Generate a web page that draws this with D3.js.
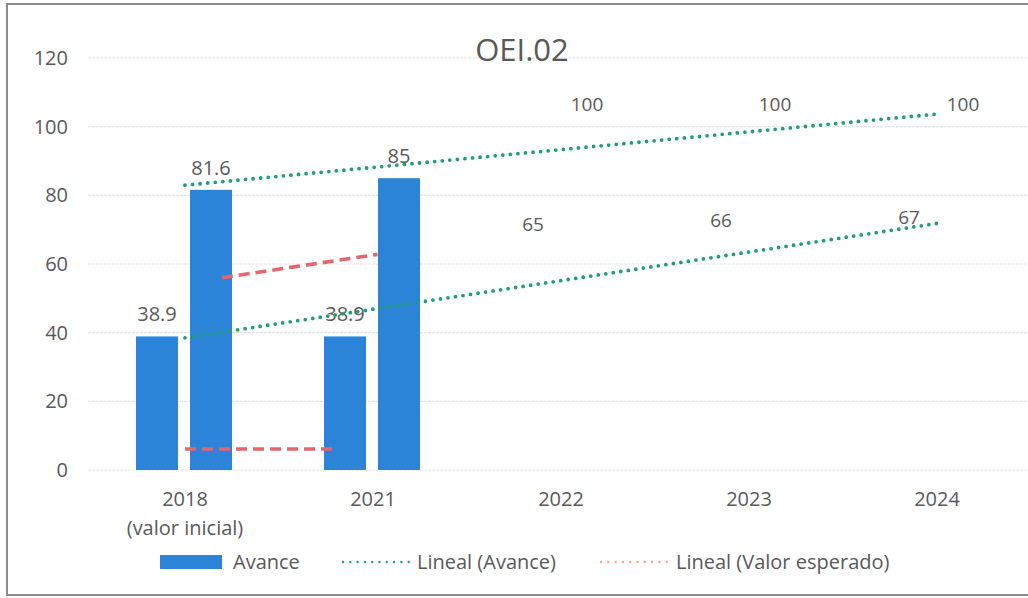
<!DOCTYPE html>
<html>
<head>
<meta charset="utf-8">
<script src="https://cdn.jsdelivr.net/npm/d3@7"></script>
<style>
  body { margin: 0; background: #fff; }
  text { font-family: "Open Sans", "Noto Sans", sans-serif; fill: #595959; }
</style>
</head>
<body>
<div id="chart"></div>
<script>
// categories and series
var categories = ["2018", "2021", "2022", "2023", "2024"];
var cat_sub = ["(valor inicial)", "", "", "", ""];
var avance_low = [38.9, 38.9, 65, 66, 67];      // left bar of each group
var avance_high = [81.6, 85, 100, 100, 100];    // right bar of each group
var bar_visible = [true, true, false, false, false];
var y_ticks = [0, 20, 40, 60, 80, 100, 120];

// "Valor esperado" trend segments: [category index, value] pairs
var esperado_segments = [
    [[0.196, 56.0], [1.024, 62.8]],
    [[0.0, 6.1], [0.784, 6.1]]
];

var width = 1028, height = 598;
var margin = { left: 91, right: -3, top: 58, bottom: 128 };

var svg = d3.select("#chart").append("svg")
    .attr("width", width)
    .attr("height", height);

// outer frame
svg.append("rect")
    .attr("x", 7).attr("y", 4)
    .attr("width", width + 10).attr("height", 591)
    .attr("fill", "none")
    .attr("stroke", "#8c8c8c")
    .attr("stroke-width", 2);

var x = d3.scaleBand()
    .domain(categories)
    .range([margin.left, width - margin.right])
    .paddingInner(0).paddingOuter(0);

var x_idx = d3.scaleLinear()
    .domain([0, 1])
    .range([x(categories[0]) + x.bandwidth() / 2, x(categories[1]) + x.bandwidth() / 2]);

var x_inner = d3.scaleBand()
    .domain(["low", "high"])
    .range([0, 96])
    .paddingInner(12 / 54);

var y = d3.scaleLinear()
    .domain([0, 120])
    .range([height - margin.bottom, margin.top]);

// gridlines
svg.append("g")
    .selectAll("line")
    .data(y_ticks)
    .join("line")
    .attr("x1", 88).attr("x2", width)
    .attr("y1", function(d) { return y(d); })
    .attr("y2", function(d) { return y(d); })
    .attr("stroke", "#e3e3e3")
    .attr("stroke-width", 1.2)
    .attr("stroke-dasharray", "3 1");

// y axis labels
var y_axis = svg.append("g")
    .attr("transform", "translate(68,0)")
    .call(d3.axisLeft(y).tickValues(y_ticks).tickSize(0).tickPadding(0));
y_axis.select(".domain").remove();
y_axis.selectAll("text")
    .attr("font-size", 20)
    .attr("fill", "#595959")
    .style("font-family", "'Open Sans', sans-serif");

// x axis labels
var x_axis = svg.append("g")
    .attr("transform", "translate(0," + (y(0) + 22) + ")")
    .call(d3.axisBottom(x).tickSize(0).tickPadding(0));
x_axis.select(".domain").remove();
x_axis.selectAll("text")
    .attr("font-size", 20)
    .attr("fill", "#595959")
    .style("font-family", "'Open Sans', sans-serif")
    .attr("dy", "0.71em");
svg.append("g")
    .selectAll("text")
    .data(categories.filter(function(c, i) { return cat_sub[i] !== ""; }))
    .join("text")
    .attr("x", function(d) { return x(d) + x.bandwidth() / 2; })
    .attr("y", y(0) + 65)
    .attr("text-anchor", "middle")
    .attr("font-size", 20)
    .text(function(d) { return cat_sub[categories.indexOf(d)]; });

// bars
var groups = categories.map(function(c, i) {
    return {
        cat: c,
        visible: bar_visible[i],
        bars: [{ key: "low", value: avance_low[i] }, { key: "high", value: avance_high[i] }]
    };
});

var bar_color = "#2b84d8";

var group_sel = svg.append("g")
    .selectAll("g")
    .data(groups)
    .join("g")
    .attr("transform", function(d) {
        return "translate(" + (x(d.cat) + x.bandwidth() / 2 - 49) + ",0)";
    });

group_sel.selectAll("rect")
    .data(function(d) { return d.visible ? d.bars : []; })
    .join("rect")
    .attr("x", function(d) { return x_inner(d.key); })
    .attr("width", x_inner.bandwidth())
    .attr("y", function(d) { return y(d.value); })
    .attr("height", function(d) { return y(0) - y(d.value); })
    .attr("fill", bar_color);

// trendlines for the two Avance series (least squares over category index)
function linear_fit(vals) {
    var n = vals.length;
    var mx = d3.mean(vals, function(v, i) { return i; });
    var my = d3.mean(vals);
    var num = d3.sum(vals, function(v, i) { return (i - mx) * (v - my); });
    var den = d3.sum(vals, function(v, i) { return (i - mx) * (i - mx); });
    var slope = num / den;
    return [[0, my - slope * mx], [n - 1, my + slope * (n - 1 - mx)]];
}

var trend_line = d3.line()
    .x(function(d) { return x_idx(d[0]); })
    .y(function(d) { return y(d[1]); });

var green = "#1e9e74";
[avance_high, avance_low].forEach(function(vals) {
    svg.append("path")
        .attr("d", trend_line(linear_fit(vals)))
        .attr("fill", "none")
        .attr("stroke", green)
        .attr("stroke-width", 3.8)
        .attr("stroke-linecap", "round")
        .attr("stroke-dasharray", "0 7.6");
});

var red = "#e4656f";
esperado_segments.forEach(function(seg) {
    svg.append("path")
        .attr("d", trend_line(seg))
        .attr("fill", "none")
        .attr("stroke", red)
        .attr("stroke-width", 3.6)
        .attr("stroke-dasharray", "11 6");
});

// data labels (shown bars get larger labels than the hidden ones)
group_sel.selectAll("text.val")
    .data(function(d) {
        return d.bars.map(function(b) { return { key: b.key, value: b.value, visible: d.visible }; });
    })
    .join("text")
    .attr("class", "val")
    .attr("x", function(d) { return x_inner(d.key) + x_inner.bandwidth() / 2; })
    .attr("y", function(d) { return y(d.value) - (d.visible ? 15 : 16); })
    .attr("text-anchor", "middle")
    .attr("font-size", function(d) { return d.visible ? 20 : 19; })
    .text(function(d) { return d.value; });

// title
svg.append("text")
    .attr("x", 522).attr("y", 61)
    .attr("text-anchor", "middle")
    .attr("font-size", 31)
    .text("OEI.02");

// legend
var legend = svg.append("g").attr("transform", "translate(0,562)");
legend.append("rect")
    .attr("x", 160).attr("y", -7)
    .attr("width", 62).attr("height", 14)
    .attr("fill", bar_color);
legend.append("text")
    .attr("x", 233).attr("y", 0).attr("dy", "0.35em")
    .attr("font-size", 20)
    .text("Avance");
legend.append("line")
    .attr("x1", 343).attr("x2", 409)
    .attr("stroke", green)
    .attr("stroke-width", 2.4)
    .attr("stroke-linecap", "round")
    .attr("stroke-dasharray", "0 7.3");
legend.append("text")
    .attr("x", 417).attr("y", 0).attr("dy", "0.35em")
    .attr("font-size", 20)
    .text("Lineal (Avance)");
legend.append("line")
    .attr("x1", 601).attr("x2", 667)
    .attr("stroke", "#f4a28a")
    .attr("stroke-width", 2.4)
    .attr("stroke-linecap", "round")
    .attr("stroke-dasharray", "0 7.3");
legend.append("text")
    .attr("x", 676).attr("y", 0).attr("dy", "0.35em")
    .attr("font-size", 20)
    .text("Lineal (Valor esperado)");
</script>
</body>
</html>
